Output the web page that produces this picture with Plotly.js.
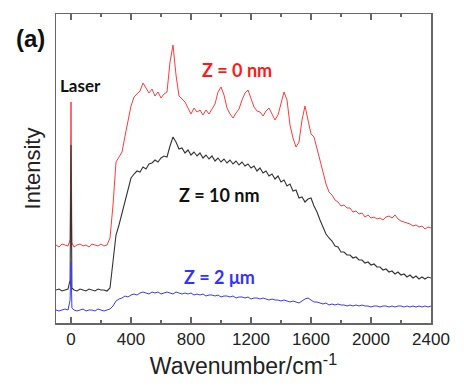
<!DOCTYPE html>
<html>
<head>
<meta charset="utf-8">
<script src="https://cdn.plot.ly/plotly-3.0.1.min.js"></script>
<style>
  html, body { margin: 0; padding: 0; background: #fff; }
  #plot { width: 464px; height: 387px; }
</style>
</head>
<body>
<div id="plot"></div>
<script>
// Raman shift grid (cm^-1), extra points around the laser line
const wavenumber = [
  -100, -80, -60, -40, -20, -6, 0, 6, 20, 40,
  60, 80, 100, 120, 140, 160, 180, 200, 220, 240,
  260, 280, 300, 320, 340, 360, 380, 400, 420, 440,
  460, 480, 500, 520, 540, 560, 580, 600, 620, 640,
  660, 680, 700, 720, 740, 760, 780, 800, 820, 840,
  860, 880, 900, 920, 940, 960, 980, 1000, 1020, 1040,
  1060, 1080, 1100, 1120, 1140, 1160, 1180, 1200, 1220, 1240,
  1260, 1280, 1300, 1320, 1340, 1360, 1380, 1400, 1420, 1440,
  1460, 1480, 1500, 1520, 1540, 1560, 1580, 1600, 1620, 1640,
  1660, 1680, 1700, 1720, 1740, 1760, 1780, 1800, 1820, 1840,
  1860, 1880, 1900, 1920, 1940, 1960, 1980, 2000, 2020, 2040,
  2060, 2080, 2100, 2120, 2140, 2160, 2180, 2200, 2220, 2240,
  2260, 2280, 2300, 2320, 2340, 2360, 2380, 2400
];

// intensities (arb. units, offset curves)
const z0nm = [
  78, 76, 79, 78, 77, 83, 221, 80, 76, 78,
  79, 77, 78, 76, 79, 78, 77, 79, 77, 78,
  85, 118, 161, 166, 171, 187, 202, 217, 226, 229,
  232, 240, 235, 230, 234, 227, 231, 225, 229, 231,
  261, 278, 248, 227, 224, 221, 215, 209, 215, 211,
  213, 208, 213, 209, 214, 219, 231, 236, 228, 215,
  209, 205, 210, 214, 223, 230, 233, 225, 216, 212,
  211, 207, 212, 215, 209, 203, 208, 220, 231, 223,
  198, 185, 176, 181, 203, 217, 201, 189, 186, 175,
  163, 151, 139, 131, 128, 123, 121, 117, 118, 115,
  115, 111, 112, 109, 110, 106, 108, 105, 106, 104,
  105, 103, 106, 107, 105, 108, 104, 102, 101, 100,
  99, 97, 98, 96, 97, 94, 96, 95
];

const z10nm = [
  33, 34, 32, 33, 34, 43, 178, 35, 33, 32,
  34, 33, 32, 34, 33, 32, 34, 33, 33, 32,
  35, 61, 88, 98, 110, 123, 135, 145, 149, 152,
  151, 156, 154, 159, 160, 163, 161, 165, 167, 166,
  177, 186, 181, 174, 175, 170, 173, 168, 171, 167,
  170, 165, 168, 164, 167, 162, 165, 161, 164, 160,
  163, 159, 162, 158, 161, 157, 159, 155, 157, 152,
  155, 150, 152, 147, 149, 144, 147, 141, 143, 137,
  139, 132, 133, 125, 126, 121, 124, 125, 117, 111,
  103, 96, 89, 85, 82, 77, 76, 71, 71, 68,
  68, 65, 66, 63, 63, 60, 61, 58, 59, 56,
  56, 53, 54, 51, 52, 49, 51, 48, 49, 46,
  48, 45, 47, 44, 46, 44, 46, 45
];

const z2um = [
  13, 12, 13, 14, 13, 23, 61, 15, 13, 12,
  13, 14, 12, 13, 13, 12, 14, 13, 12, 13,
  14, 17, 22, 24, 25, 27, 26, 28, 29, 28,
  30, 31, 30, 29, 31, 30, 31, 29, 30, 31,
  30, 29, 31, 30, 29, 30, 29, 30, 28, 29,
  28, 29, 27, 28, 28, 27, 28, 26, 27, 27,
  26, 27, 25, 26, 26, 25, 26, 24, 25, 25,
  24, 25, 24, 23, 24, 23, 23, 22, 23, 22,
  21, 22, 21, 20, 22, 24, 25, 23, 21, 21,
  20, 19, 20, 18, 19, 18, 19, 18, 18, 17,
  18, 17, 18, 17, 18, 17, 17, 16, 17, 17,
  16, 17, 17, 16, 17, 16, 17, 17, 16, 17,
  16, 17, 16, 17, 16, 17, 16, 17
];

const axisColor = '#666';
const sans = 'Liberation Sans, Arial, sans-serif';
const labelFont = 'Lato, Open Sans, sans-serif';

const traces = [
  { x: wavenumber, y: z0nm, name: 'Z = 0 nm', line: { color: '#ff3b3b', width: 1 } },
  { x: wavenumber, y: z10nm, name: 'Z = 10 nm', line: { color: '#333333', width: 1.1 } },
  { x: wavenumber, y: z2um, name: 'Z = 2 μm', line: { color: '#3a3aff', width: 1 } }
].map(t => Object.assign({ type: 'scatter', mode: 'lines', hoverinfo: 'skip' }, t));

const layout = {
  width: 464,
  height: 387,
  margin: { l: 56, r: 33, t: 14, b: 64 },
  paper_bgcolor: '#fff',
  plot_bgcolor: '#fff',
  showlegend: false,
  xaxis: {
    range: [-100, 2400],
    tick0: 0,
    dtick: 400,
    ticks: 'inside',
    ticklen: 6,
    tickwidth: 1.5,
    tickcolor: axisColor,
    minor: { dtick: 200, ticks: 'inside', ticklen: 3, tickwidth: 1.5, tickcolor: axisColor },
    showline: true,
    linecolor: axisColor,
    linewidth: 1.5,
    mirror: 'ticks',
    showgrid: false,
    zeroline: false,
    tickfont: { family: sans, size: 17, color: '#222' },
    title: { text: 'Wavenumber/cm<sup>-1</sup>', font: { family: sans, size: 23, color: '#222' }, standoff: 10 }
  },
  yaxis: {
    range: [0, 309],
    showticklabels: false,
    ticks: '',
    showline: true,
    linecolor: axisColor,
    linewidth: 1.5,
    mirror: true,
    showgrid: false,
    zeroline: false,
    title: { text: 'Intensity', font: { family: sans, size: 22, color: '#222' }, standoff: 8 }
  },
  annotations: [
    { text: '<b>(a)</b>', xref: 'paper', yref: 'paper', x: -0.069, y: 0.922,
      xanchor: 'center', yanchor: 'middle', showarrow: false,
      font: { family: sans, size: 24, color: '#111' } },
    { text: '<b>Laser</b>', x: 66, y: 238, showarrow: false, font: { family: labelFont, size: 17, color: '#111' } },
    { text: '<b>Z = 0 nm</b>', x: 1106, y: 253, showarrow: false, font: { family: labelFont, size: 18, color: '#ff1a1a' } },
    { text: '<b>Z = 10 nm</b>', x: 987, y: 128, showarrow: false, font: { family: labelFont, size: 18, color: '#111' } },
    { text: '<b>Z = 2 μm</b>', x: 993, y: 46, showarrow: false, font: { family: labelFont, size: 18, color: '#3333ff' } }
  ]
};

Plotly.newPlot('plot', traces, layout, { staticPlot: true });
</script>
</body>
</html>
